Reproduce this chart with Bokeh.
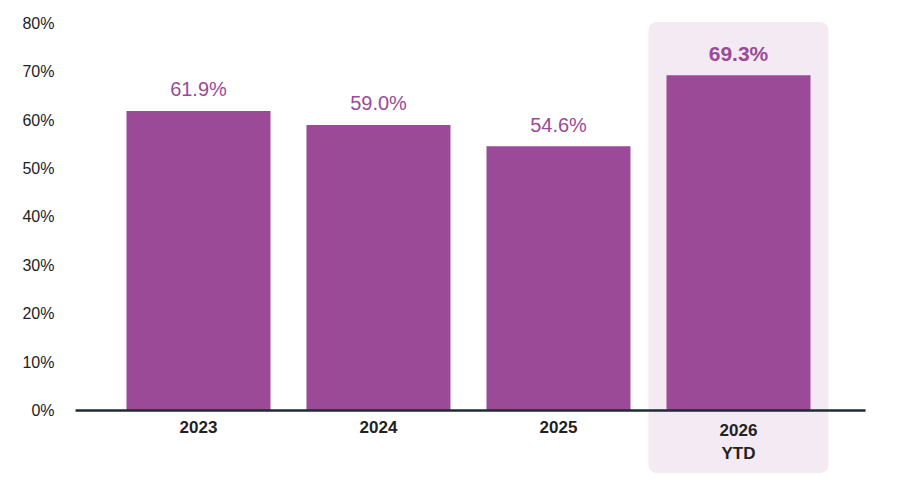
from bokeh.plotting import figure
from bokeh.models import Range1d, FixedTicker, ColumnDataSource
from bokeh.core.properties import value
from bokeh.embed import file_html
from bokeh.resources import INLINE

years = ["2023", "2024", "2025", "2026\nYTD"]
vals = [61.9, 59.0, 54.6, 69.3]
labels = ["61.9%", "59.0%", "54.6%", "69.3%"]
xs = list(range(len(years)))
purple = "#9b4a98"

p = figure(width=901, height=477, output_backend="svg", toolbar_location=None,
           x_range=Range1d(-0.711, 3.9056), y_range=Range1d(-13.85, 83.1),
           min_border_left=70, min_border_right=0, min_border_top=8, min_border_bottom=0)
p.outline_line_color = None
p.grid.visible = False
p.xaxis.visible = False
ya = p.yaxis[0]
ya.ticker = FixedTicker(ticks=[0, 10, 20, 30, 40, 50, 60, 70, 80])
ya.major_label_overrides = {t: f"{t}%" for t in range(0, 90, 10)}
ya.axis_line_color = None
ya.major_tick_line_color = None
ya.minor_tick_line_color = None
ya.major_label_text_font = "Liberation Sans"
ya.major_label_text_font_size = "16px"
ya.major_label_text_color = "#222222"
ya.major_label_standoff = 10

p.quad(left=2.5, right=3.5, bottom=-12.9, top=80.3, fill_color="#f4eaf4", line_color=None,
       border_radius=8)

src = ColumnDataSource(dict(x=xs, top=vals))
p.vbar(x="x", top="top", width=0.8, bottom=0, source=src, fill_color=purple, line_color=None)
p.segment(x0=-0.683, x1=3.706, y0=0, y1=0, line_color="#1f2a36", line_width=2.5)

for i in range(3):
    p.text(x=[xs[i]], y=[vals[i] + 2.2], text=[labels[i]], text_align="center",
           text_baseline="bottom", text_font=value("Liberation Sans"),
           text_font_size="20px", text_color=purple)
p.text(x=[3], y=[vals[3] + 2.2], text=[labels[3]], text_align="center",
       text_baseline="bottom", text_font=value("Liberation Sans"), text_font_style="bold",
       text_font_size="21px", text_color=purple)
p.text(x=xs, y=[-2.2] * 4, text=years, text_align="center", text_baseline="top",
       text_font=value("Liberation Sans"), text_font_style="bold", text_font_size="17px",
       text_color="#222222", text_line_height=1.2)

open("out.html", "w").write(file_html(p, INLINE))
